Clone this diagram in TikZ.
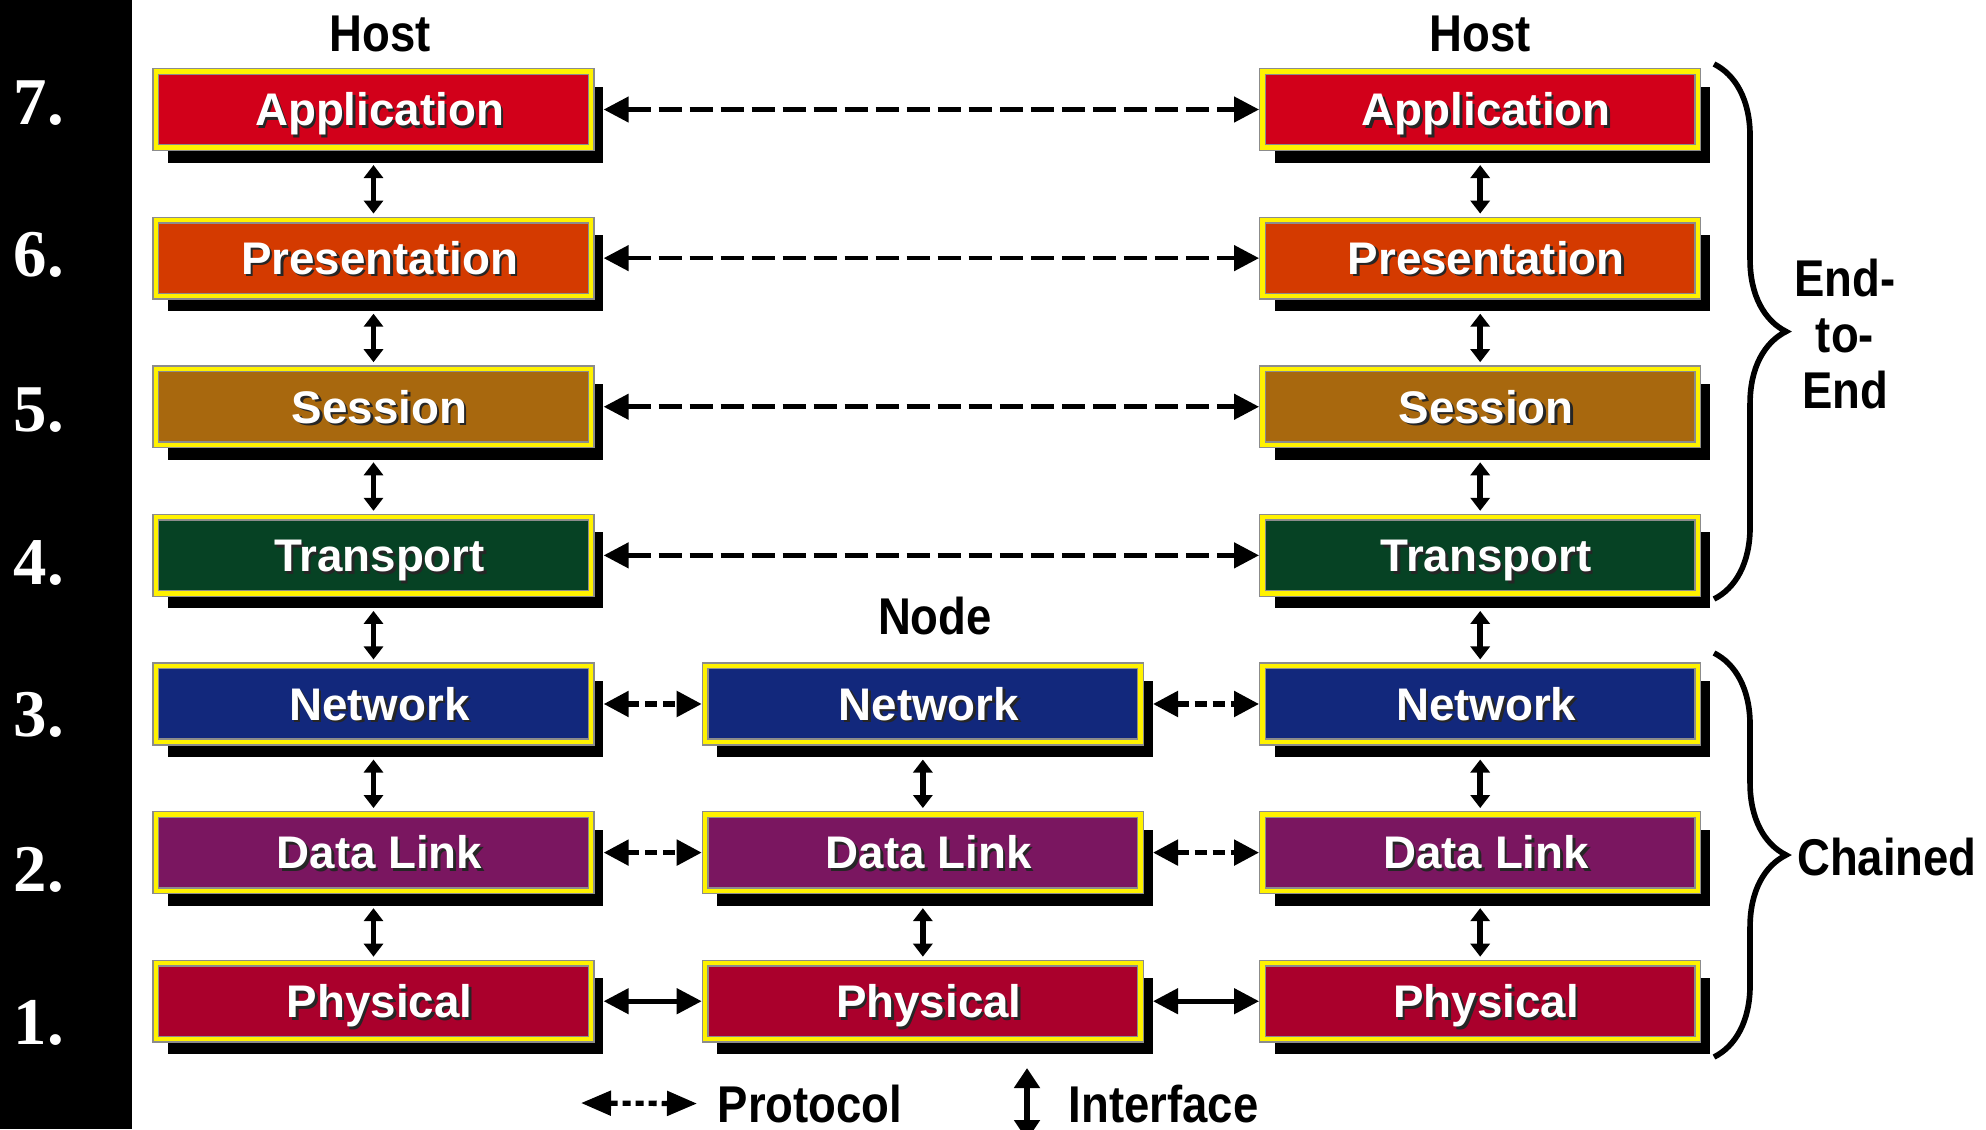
\documentclass[tikz,border=0pt]{standalone}
\usepackage{fontspec}
\setmainfont{Liberation Sans}
\newfontfamily\narrowsans[FakeStretch=0.88]{Liberation Sans}
\newfontfamily\numserif{Liberation Serif}
\usepackage{tikz}
\usetikzlibrary{arrows.meta, positioning, shadows, decorations.pathreplacing}

\definecolor{appred}{RGB}{210,0,26}
\definecolor{presorange}{RGB}{212,58,0}
\definecolor{sessbrown}{RGB}{168,104,14}
\definecolor{transgreen}{RGB}{6,66,36}
\definecolor{netblue}{RGB}{18,40,124}
\definecolor{linkpurple}{RGB}{122,22,96}
\definecolor{physred}{RGB}{170,0,44}

\newcommand{\raisedtxt}[1]{\kern0.12cm\leavevmode\rlap{\kern0.7pt\raisebox{-0.7pt}{\color{black!85}#1}}#1}

\begin{document}
\begin{tikzpicture}[
		x=0.01cm, y=-0.01cm,
		layer/.style={
			rectangle,
			draw=black!45,
			double=yellow,
			double distance=1.2pt,
			line width=0.4pt,
			outer sep=1pt,
			minimum width=4.35cm,
			minimum height=0.76cm,
			text height=9.3pt,
			text depth=0pt,
			text=white,
			font=\bfseries\fontsize{13}{15}\selectfont,
			drop shadow={shadow xshift=0.12cm, shadow yshift=-0.15cm, fill=black, opacity=1}
		},
		heading/.style={
			inner sep=0pt,
			font=\narrowsans\bfseries\fontsize{14.7}{16}\selectfont
		},
		numeral/.style={
			inner sep=0pt,
			anchor=base west,
			text=white,
			font=\numserif\bfseries\fontsize{19}{23}\selectfont
		},
		protocol/.style={
			line width=1.3pt,
			dash pattern=on 0.23cm off 0.08cm,
			shorten <=0.09cm,
			<->, >={Triangle[length=0.25cm, width=0.25cm]}
		},
		hop/.style={
			protocol,
			line width=1.5pt,
			dash pattern=on 0.12cm off 0.06cm
		},
		wire/.style={
			line width=1.3pt,
			shorten <=0.09cm,
			<->, >={Triangle[length=0.25cm, width=0.25cm]}
		},
		interface/.style={
			line width=1.6pt,
			shorten <=0.14cm,
			shorten >=0.03cm,
			<->, >={Triangle[length=0.13cm, width=0.19cm]}
		},
		curly/.style={
			decorate,
			decoration={brace, amplitude=0.72cm},
			line width=1.6pt
		}
	]

	\useasboundingbox (0,0) rectangle (1986,1129);

	% layer numbers
	\fill[black] (0,0) rectangle (132,1129);
	\node[numeral] (n7) at (13,124) {7.};
	\node[numeral] (n6) at (13,276) {6.};
	\node[numeral] (n5) at (13,431) {5.};
	\node[numeral] (n4) at (13,584) {4.};
	\node[numeral] (n3) at (13,736) {3.};
	\node[numeral] (n2) at (13,891) {2.};
	\node[numeral] (n1) at (13,1044) {1.};

	% left host
	\node[layer, fill=appred] (AL) at (373.5,109.5) {\raisedtxt{Application}};
	\node[layer, fill=presorange, below=0.655cm of AL] (PL) {\raisedtxt{Presentation}};
	\node[layer, fill=sessbrown, below=0.655cm of PL] (SL) {\raisedtxt{Session}};
	\node[layer, fill=transgreen, below=0.655cm of SL] (TL) {\raisedtxt{Transport}};
	\node[layer, fill=netblue, below=0.655cm of TL] (NL) {\raisedtxt{Network}};
	\node[layer, fill=linkpurple, below=0.655cm of NL] (DL) {\raisedtxt{Data Link}};
	\node[layer, fill=physred, below=0.655cm of DL] (PhL) {\raisedtxt{Physical}};

	% right host
	\node[layer, fill=appred, right=6.64cm of AL] (AR) {\raisedtxt{Application}};
	\node[layer, fill=presorange, below=0.655cm of AR] (PR) {\raisedtxt{Presentation}};
	\node[layer, fill=sessbrown, below=0.655cm of PR] (SR) {\raisedtxt{Session}};
	\node[layer, fill=transgreen, below=0.655cm of SR] (TR) {\raisedtxt{Transport}};
	\node[layer, fill=netblue, below=0.655cm of TR] (NR) {\raisedtxt{Network}};
	\node[layer, fill=linkpurple, below=0.655cm of NR] (DR) {\raisedtxt{Data Link}};
	\node[layer, fill=physred, below=0.655cm of DR] (PhR) {\raisedtxt{Physical}};

	% intermediate node
	\node[layer, fill=netblue, right=1.07cm of NL] (NM) {\raisedtxt{Network}};
	\node[layer, fill=linkpurple, below=0.655cm of NM] (DM) {\raisedtxt{Data Link}};
	\node[layer, fill=physred, below=0.655cm of DM] (PhM) {\raisedtxt{Physical}};

	\node[heading, above=0.15cm of AL, xshift=0.07cm] (hostL) {Host};
	\node[heading, above=0.15cm of AR] (hostR) {Host};
	\node[heading, above=0.265cm of NM, xshift=0.12cm] (nodeT) {Node};

	% interfaces
	\draw[interface] (AL) -- (PL);
	\draw[interface] (PL) -- (SL);
	\draw[interface] (SL) -- (TL);
	\draw[interface] (TL) -- (NL);
	\draw[interface] (NL) -- (DL);
	\draw[interface] (DL) -- (PhL);
	\draw[interface] (AR) -- (PR);
	\draw[interface] (PR) -- (SR);
	\draw[interface] (SR) -- (TR);
	\draw[interface] (TR) -- (NR);
	\draw[interface] (NR) -- (DR);
	\draw[interface] (DR) -- (PhR);
	\draw[interface] (NM) -- (DM);
	\draw[interface] (DM) -- (PhM);

	% protocols
	\draw[protocol] (AL) -- (AR);
	\draw[protocol] (PL) -- (PR);
	\draw[protocol] (SL) -- (SR);
	\draw[protocol] (TL) -- (TR);
	\draw[hop] (NL) -- (NM);
	\draw[hop] (NM) -- (NR);
	\draw[hop] (DL) -- (DM);
	\draw[hop] (DM) -- (DR);
	\draw[wire] (PhL) -- (PhM);
	\draw[wire] (PhM) -- (PhR);

	% braces
	\draw[curly] (1714,64) -- (1714,599);
	\draw[curly] (1714,653) -- (1714,1057);
	\node[heading, align=center] (e2e) at (1845,334) {End-\\to-\\End};
	\node[heading] (chained) at (1887,857) {Chained};

	% legend
	\node[heading, anchor=base west] (protoT) at (717,1122) {Protocol};
	\node[heading, anchor=base west] (ifaceT) at (1068,1122) {Interface};
	\coordinate (protoA) at (581,1103);
	\coordinate (ifaceA) at (1027,1068);
	\coordinate (ifaceB) at (1027,1140);
	\draw[line width=1.5pt, dash pattern=on 0.08cm off 0.05cm, <->, >={Triangle[length=0.3cm, width=0.24cm]}] (protoA) -- ([xshift=-0.2cm]protoT.west);
	\draw[line width=1.6pt, <->, >={Triangle[length=0.2cm, width=0.25cm]}] (ifaceA) -- (ifaceB);

\end{tikzpicture}
\end{document}
